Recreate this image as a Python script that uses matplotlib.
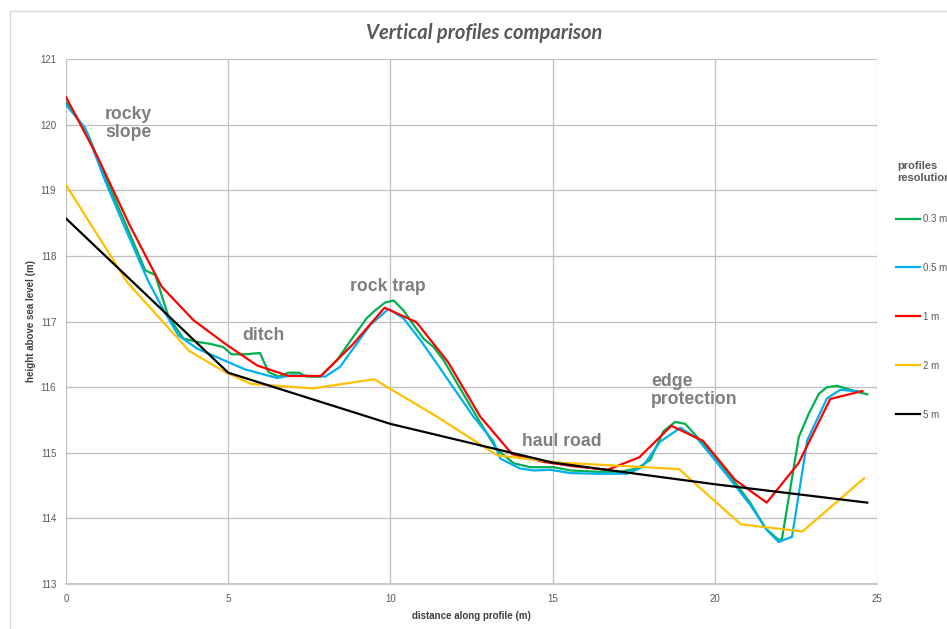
import numpy as np
import matplotlib.pyplot as plt
from matplotlib.patches import Rectangle

# profile data, distance (m) and height above sea level (m), one pair per resolution
x_03 = [0.0, 0.66, 1.3, 2.0, 2.44, 2.75, 3.16, 3.62, 4.03, 4.44, 4.85, 5.1, 5.52, 5.98, 6.24, 6.55,
        6.86, 7.17, 7.42, 7.83, 8.35, 8.86, 9.27, 9.53, 9.84, 10.1, 10.4, 10.71, 11.02, 11.33, 11.64,
        12.15, 12.66, 13.28, 13.8, 14.31, 15.03, 15.55, 16.37, 17.09, 17.6, 18.01, 18.42, 18.78,
        19.09, 19.4, 19.92, 20.53, 21.1, 21.56, 21.97, 22.07, 22.59, 22.9, 23.21, 23.46, 23.77,
        24.39, 24.7]
h_03 = [120.35, 119.87, 119.1, 118.3, 117.78, 117.71, 117.07, 116.74, 116.69, 116.66, 116.61,
        116.5, 116.5, 116.52, 116.23, 116.16, 116.22, 116.22, 116.16, 116.16, 116.41, 116.77,
        117.05, 117.17, 117.29, 117.32, 117.17, 116.95, 116.74, 116.61, 116.41, 115.98, 115.55,
        115.05, 114.84, 114.78, 114.78, 114.73, 114.71, 114.71, 114.76, 114.89, 115.33, 115.47,
        115.44, 115.27, 114.99, 114.61, 114.23, 113.85, 113.67, 113.69, 115.24, 115.6, 115.9,
        116.0, 116.02, 115.93, 115.89]

x_05 = [0.0, 0.59, 1.2, 1.8, 2.39, 2.54, 3.0, 3.46, 4.03, 4.96, 5.52, 6.5, 6.96, 7.99, 8.45,
        9.38, 9.94, 10.4, 10.92, 11.43, 12.0, 12.56, 13.18, 13.39, 14.0, 14.41, 14.93, 15.55,
        16.37, 17.29, 17.76, 18.32, 18.94, 19.45, 19.97, 20.58, 21.1, 21.61, 21.97, 22.38, 22.85,
        23.46, 23.87, 24.5]
h_05 = [120.3, 119.95, 119.15, 118.45, 117.78, 117.61, 117.18, 116.79, 116.59, 116.39, 116.27,
        116.14, 116.18, 116.16, 116.31, 116.95, 117.19, 117.05, 116.72, 116.36, 115.95, 115.55,
        115.17, 114.91, 114.76, 114.73, 114.74, 114.69, 114.68, 114.68, 114.78, 115.17, 115.38,
        115.22, 114.91, 114.53, 114.2, 113.82, 113.64, 113.72, 115.19, 115.83, 115.96, 115.93]

x_1 = [0.0, 0.98, 1.96, 2.95, 3.93, 4.91, 5.89, 6.87, 7.86, 8.84, 9.82, 10.8, 11.78, 12.77, 13.75,
       14.73, 15.71, 16.69, 17.67, 18.66, 19.64, 20.62, 21.6, 22.58, 23.56, 24.55]
h_1 = [120.42, 119.5, 118.47, 117.53, 117.02, 116.66, 116.33, 116.17, 116.17, 116.65, 117.21,
       116.99, 116.38, 115.55, 114.98, 114.86, 114.79, 114.74, 114.93, 115.41, 115.18, 114.59,
       114.24, 114.84, 115.82, 115.94]

x_2 = [0.0, 1.9, 3.8, 4.9, 5.7, 7.6, 9.5, 11.4, 13.3, 15.2, 17.1, 18.9, 20.8, 22.7, 24.6]
h_2 = [119.08, 117.59, 116.55, 116.23, 116.05, 115.98, 116.12, 115.56, 114.96, 114.85, 114.8,
       114.75, 113.91, 113.8, 114.61]

x_5 = [0.0, 5.0, 10.0, 15.0, 20.0, 24.7]
h_5 = [118.57, 116.22, 115.44, 114.85, 114.52, 114.24]

labels = ['0.3 m', '0.5 m', '1 m', '2 m', '5 m']
colors = ['#00B050', '#00B0F0', '#FF0000', '#FFC000', '#000000']

# text notes on the profile features (x, baseline y of the last line)
notes = ['rocky\nslope', 'ditch', 'rock trap', 'haul road', 'edge\nprotection']
note_x = [1.2, 5.42, 8.76, 14.06, 18.04]
note_y = [119.81, 116.72, 117.46, 115.10, 115.74]

fig = plt.figure(figsize=(9.47, 6.29), dpi=100)
fig.patches.append(Rectangle((10 / 947, -0.1), 1.2, 1 - 11 / 629 + 0.1, transform=fig.transFigure,
                             fill=False, edgecolor='#D9D9D9', lw=1.0))
ax = fig.add_axes([66 / 947, 1 - 584 / 629, (877 - 66) / 947, (584 - 59) / 629])

series = [(x_03, h_03), (x_05, h_05), (x_1, h_1), (x_2, h_2), (x_5, h_5)]
handles = []
for (xs, hs), lab, c in zip(series, labels, colors):
    ln, = ax.plot(xs, hs, color=c, lw=1.6, label=lab, solid_joinstyle='round')
    handles.append(ln)

ax.set_xlim(0, 25)
ax.set_ylim(113, 121)
ax.set_xticks(np.arange(0, 26, 5))
ax.set_yticks(np.arange(113, 122, 1))
ax.grid(True, color='#BFBFBF', lw=0.9)
ax.set_axisbelow(True)
for s in ['left', 'right', 'top']:
    ax.spines[s].set_visible(False)
ax.spines['bottom'].set_color('#BFBFBF')
ax.spines['bottom'].set_linewidth(1.2)
ax.tick_params(length=0, labelsize=7, labelcolor='#595959')
ax.tick_params(axis='x', pad=7)
ax.tick_params(axis='y', pad=7)
for t in ax.get_xticklabels() + ax.get_yticklabels():
    t.set_fontfamily('Liberation Sans')

for txt, tx, ty in zip(notes, note_x, note_y):
    ax.text(tx, ty, txt, fontsize=12.7, fontweight='bold', color='#7F7F7F', family='Liberation Sans',
            ha='left', va='baseline', multialignment='left', linespacing=1.1)

fig.text(484 / 947, 1 - 33 / 629, 'Vertical profiles comparison', ha='center', va='center',
         fontsize=14.5, fontweight='bold', fontstyle='italic', color='#595959', family='Lato')
ax.set_xlabel('distance along profile (m)', fontsize=7, fontweight='bold', color='#404040',
              family='Liberation Sans', labelpad=5)
ax.set_ylabel('height above sea level (m)', fontsize=7, fontweight='bold', color='#404040',
              family='Liberation Sans', labelpad=3)

# legend title sits on its own, the entries below it
fig.text(897 / 947, 1 - 161 / 629, 'profiles\nresolution', ha='left', va='top', fontsize=8,
         fontweight='bold', color='#595959', family='Liberation Sans', linespacing=1.2)
leg = fig.legend(handles=handles, labels=labels, loc='upper left',
                 bbox_to_anchor=(896 / 947, 1 - 214 / 629), frameon=False, borderpad=0,
                 borderaxespad=0, handlelength=2.5, handletextpad=0.25, labelspacing=4.0,
                 prop={'family': 'Liberation Sans', 'size': 7})
for t in leg.get_texts():
    t.set_color('#595959')

fig.savefig('out.png', dpi=100)
